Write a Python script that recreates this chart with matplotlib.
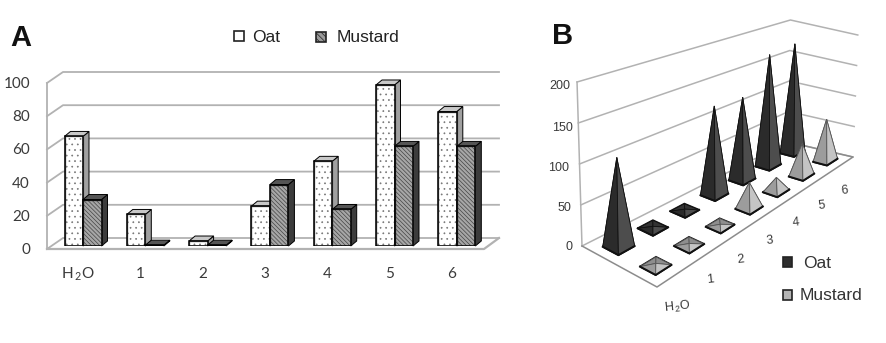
import numpy as np
import matplotlib
matplotlib.use('Agg')
import matplotlib.pyplot as plt
from matplotlib.patches import Polygon, Rectangle

plt.rcParams['hatch.linewidth'] = 0.5
plt.rcParams['mathtext.default'] = 'regular'

# values
categories = ['H$_{\\,2}$O', '1', '2', '3', '4', '5', '6']
a_ticks = [0, 20, 40, 60, 80, 100]
a_oat = [66, 19, 3, 24, 51, 97, 81]
a_mustard = [28, 0.5, 0.5, 37, 22, 60, 60]

b_ticks = [0, 50, 100, 150, 200]
b_oat = [111, 2, 2, 126, 122, 171, 174]
b_mustard = [3, 2, 2, 36, 20, 49, 66]

GRID = '#b2b2b2'
TXT = '#3a3a3a'

fig = plt.figure(figsize=(8.86, 3.43), dpi=100)
W, H = 886, 343

# page axes in pixels, used for panel B and all the loose text
page = fig.add_axes([0, 0, 1, 1], zorder=3)
page.set_xlim(0, W)
page.set_ylim(H, 0)
page.axis('off')
page.patch.set_alpha(0)

# ---------- panel A ----------
left, right, base, top = 47, 484, 246, 80
ax = fig.add_axes([left / W, 1 - base / H, (right - left) / W, (base - top) / H])
ax.axis('off')
px_x = 62.3
ax.set_xlim(-36 / px_x, (right - left - 36) / px_x)
ax.set_ylim(0, 100)
px_y = 1.66


def off(x, y, dx, dy):
    return (x + dx / px_x, y + dy / px_y)


x0 = ax.get_xlim()[0]
x1 = ax.get_xlim()[1]
zero = -3 / px_y
for g in a_ticks:
    yy = g + zero
    bx, by = off(x0, yy, 16, 11)
    ex, ey = off(x1, yy, 15, 11)
    ax.plot([x0, bx, ex], [yy, by, ey], color=GRID, lw=1.3, clip_on=False, zorder=1)
ax.plot([x0, x0], [zero, 100 + zero], color=GRID, lw=1.3, clip_on=False, zorder=1)
ax.plot([x0, x1, off(x1, zero, 15, 11)[0]], [zero, zero, off(x1, zero, 15, 11)[1]],
        color=GRID, lw=1.6, clip_on=False, zorder=1)

pos = np.arange(len(categories))
w = 18.5 / px_x
oat_bars = ax.bar(pos - w / 2, a_oat, w, color='white', edgecolor='#777777', lw=1,
                  hatch='...', zorder=3)
must_bars = ax.bar(pos + w / 2, a_mustard, w, color='#a6a6a6', edgecolor='#444444', lw=1,
                   hatch='\\\\\\\\\\\\\\\\', zorder=6)
# black outlines on top of the hatched faces
for b in list(oat_bars) + list(must_bars):
    ax.add_patch(Rectangle((b.get_x(), b.get_y()), b.get_width(), b.get_height(),
                           fc='none', ec='black', lw=1.1, zorder=b.get_zorder() + 0.5))


def box_sides(bar, side_col, top_col, z, hatch=None):
    x, y, bw, bh = bar.get_x(), bar.get_y(), bar.get_width(), bar.get_height()
    dx, dy = 6, 5
    side = [(x + bw, y), off(x + bw, y, dx, dy), off(x + bw, y + bh, dx, dy), (x + bw, y + bh)]
    roof = [(x, y + bh), (x + bw, y + bh), off(x + bw, y + bh, dx, dy), off(x, y + bh, dx, dy)]
    ax.add_patch(Polygon(side, fc=side_col, ec='black', lw=0.7, zorder=z, clip_on=False))
    ax.add_patch(Polygon(roof, fc=top_col, ec='black', lw=0.7, zorder=z, clip_on=False, hatch=hatch))


for b in oat_bars:
    box_sides(b, '#a0a0a0', '#c8c8c8', 2)
for b in must_bars:
    box_sides(b, '#3c3c3c', '#555555', 5)

for g in a_ticks:
    page.text(30, base + 4 - g * px_y, str(g), ha='right', va='center',
              fontsize=11, family='Lato', color=TXT)
for p, lab in zip(pos, categories):
    page.text(left + 31 + p * px_x, 274, lab, ha='center', va='center',
              fontsize=11, family='Lato', color=TXT)

page.text(10, 38, 'A', fontsize=21, fontweight='bold', family='Liberation Sans',
          va='center', ha='left', color='#111111')
page.text(552, 36, 'B', fontsize=21, fontweight='bold', family='Liberation Sans',
          va='center', ha='left', color='#111111')

page.add_patch(Rectangle((234, 31), 10, 10, fc='white', ec='#222222', lw=1.2))
page.text(252, 37, 'Oat', fontsize=12.5, family='Liberation Sans', va='center', color='#222222')
page.add_patch(Rectangle((316, 32), 10, 10, fc='#9a9a9a', ec='#222222', lw=1.2,
                         hatch='\\\\\\\\\\\\'))
page.text(337, 37, 'Mustard', fontsize=12.5, family='Liberation Sans', va='center', color='#222222')

# ---------- panel B ----------
# floor corners in pixels: t along the categories, v towards the back
FA, FB, FC, FD = map(np.array, [(582., 246.), (657., 287.), (853., 157.), (788., 142.)])
KEEP = 0.79
n_cat = len(categories)


def depth(n):
    i = (n + 0.5) / n_cat
    return i / (i + KEEP * (1 - i))


def project(t, v, z=0.0):
    p = (1 - t) * (v * FA + (1 - v) * FB) + t * (v * FD + (1 - v) * FC)
    scale = ((1 - t) * 41 + t * 30.5) / 50
    return (p[0] + (p[0] - 720) * 1.8e-4 * z, p[1] - scale * z)


for g in b_ticks:
    pts = [project(0, 1, g), project(1, 1, g), project(1, 0, g)]
    page.plot(*zip(*pts), color=GRID, lw=1.1, zorder=1)
page.plot(*zip(project(0, 1, 0), project(0, 1, 200)), color=GRID, lw=1.1, zorder=1)
page.plot(*zip(project(0, 1), project(0, 0), project(1, 0), project(1, 1)),
          color='#8c8c8c', lw=1.1, zorder=1)

for g, (tx, ty) in zip(b_ticks, [(569, 247), (564, 208), (559, 168), (563, 128), (560, 86)]):
    page.text(tx, ty, str(g), ha='center', va='center', fontsize=9,
              family='Liberation Sans', color=TXT)

for n, lab in enumerate(categories):
    tx, ty = project(depth(n), 0)
    page.text(tx + 3, ty + (32 if n == 0 else 26), lab, ha='center', va='center',
              fontsize=9, family='Liberation Sans', color=TXT, rotation=6)


def pyramid(n, v, val, cols, z):
    hn, hv = 0.23, 0.105
    left_c = project(depth(n - hn), v + hv)
    bottom = project(depth(n - hn), v - hv)
    right_c = project(depth(n + hn), v - hv)
    back = project(depth(n + hn), v + hv)
    apex = project(depth(n), v, val)
    # base outline sits under the faces, so a tall pyramid hides its back edges
    page.add_patch(Polygon((left_c, bottom, right_c, back), fc=cols[2], ec='#111111', lw=1.4, zorder=z))
    page.add_patch(Polygon((left_c, back, apex), fc=cols[2], ec=cols[3], lw=0.6, zorder=z + 0.1))
    page.add_patch(Polygon((back, right_c, apex), fc=cols[2], ec=cols[3], lw=0.6, zorder=z + 0.1))
    page.add_patch(Polygon((left_c, bottom, apex), fc=cols[0], ec=cols[3], lw=0.6, zorder=z + 0.2))
    page.add_patch(Polygon((bottom, right_c, apex), fc=cols[1], ec=cols[3], lw=0.6, zorder=z + 0.2))
    page.plot(*zip(left_c, bottom, right_c), color='#111111', lw=1.4, zorder=z + 0.3)


OAT_COLS = ('#2b2b2b', '#4d4d4d', '#333333', '#111111')
MUST_COLS = ('#9c9c9c', '#c4c4c4', '#8e8e8e', '#555555')
for n in range(n_cat - 1, -1, -1):
    z = 10 + 2 * (n_cat - n)
    pyramid(n, 0.75, b_oat[n], OAT_COLS, z)
    pyramid(n, 0.25, b_mustard[n], MUST_COLS, z + 1)

page.add_patch(Rectangle((783, 257), 9, 10, fc='#2e2e2e', ec='#222222', lw=1.2))
page.text(803, 263, 'Oat', fontsize=12.5, family='Liberation Sans', va='center', color='#333333')
page.add_patch(Rectangle((783, 290), 9, 10, fc='#b4b4b4', ec='#222222', lw=1.2))
page.text(800, 295, 'Mustard', fontsize=12.5, family='Liberation Sans', va='center', color='#333333')

fig.savefig('out.png', dpi=100)
